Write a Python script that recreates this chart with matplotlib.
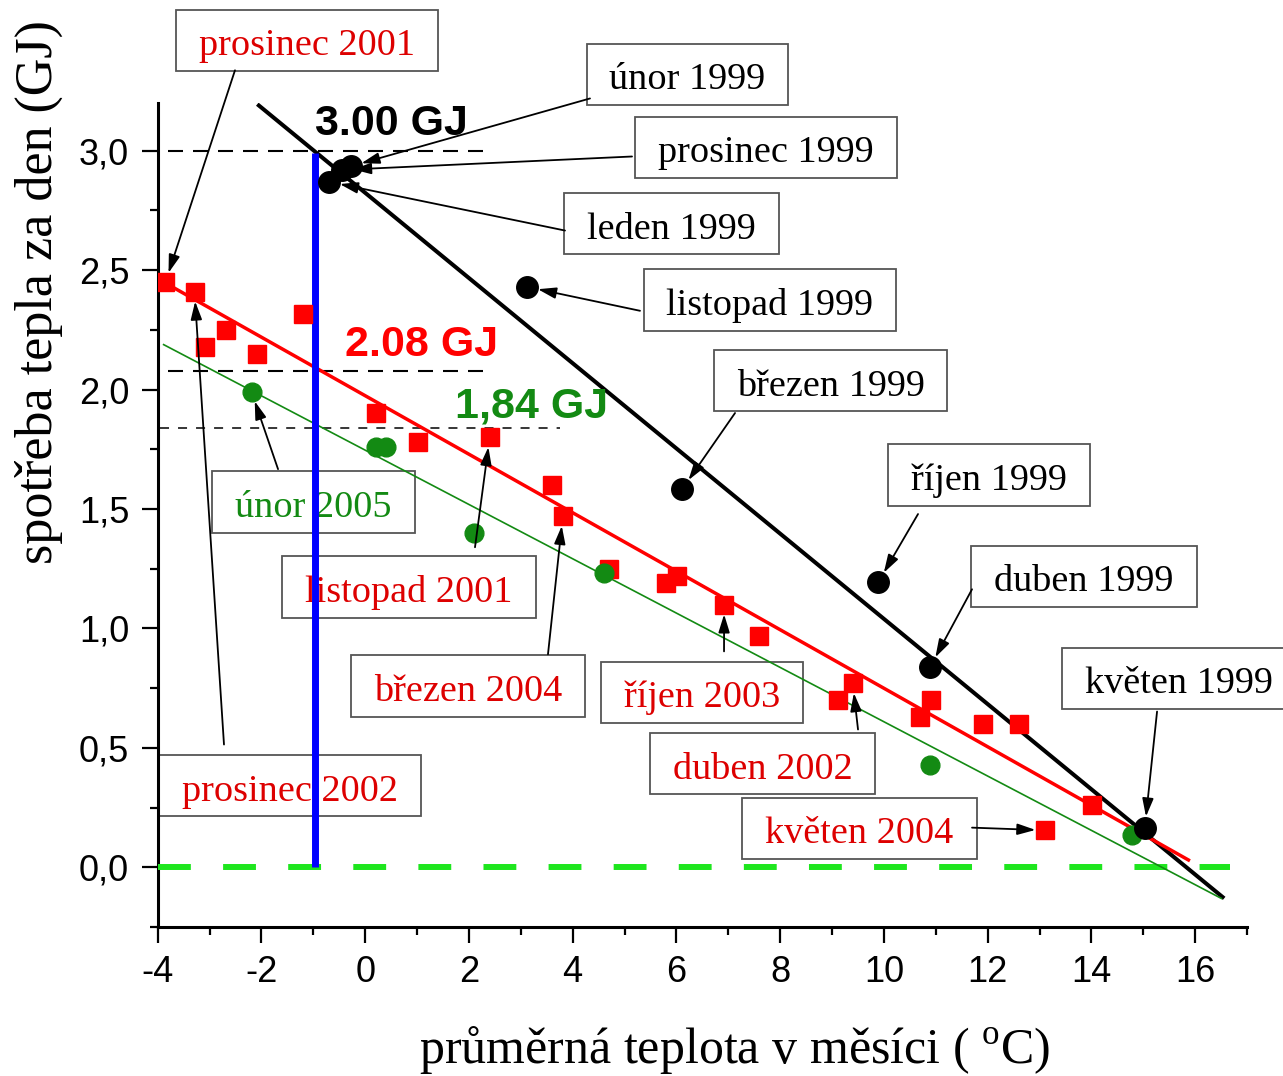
import matplotlib
matplotlib.use('Agg')
import matplotlib.pyplot as plt
from matplotlib.path import Path
from matplotlib.ticker import MultipleLocator
from matplotlib.transforms import offset_copy

plt.rcParams['mathtext.fontset'] = 'custom'
plt.rcParams['mathtext.rm'] = 'Liberation Serif'
plt.rcParams['font.family'] = ['Liberation Sans', 'DejaVu Sans']

# ---------------- data ----------------
# 1999 (black circles)
black_x = [-0.70, -0.45, -0.28, 3.12, 6.11, 9.89, 10.89, 15.03]
black_y = [2.87, 2.92, 2.935, 2.43, 1.583, 1.193, 0.838, 0.166]
# 2001-2004 (red squares)
red_x = [-3.85, -3.29, -3.09, -2.69, -2.09, -1.20, 0.20, 1.01, 2.40, 3.60,
         3.81, 4.70, 5.80, 6.01, 6.92, 7.59, 9.11, 9.40, 10.70, 10.91,
         11.91, 12.61, 14.01, 13.11]
red_y = [2.45, 2.41, 2.18, 2.25, 2.15, 2.318, 1.90, 1.78, 1.80, 1.60,
         1.47, 1.25, 1.19, 1.22, 1.10, 0.97, 0.70, 0.77, 0.63, 0.70,
         0.60, 0.60, 0.26, 0.155]
# 2005 (green circles)
green_x = [-2.19, 0.20, 0.40, 2.09, 4.60, 10.89, 14.79]
green_y = [1.99, 1.76, 1.76, 1.40, 1.231, 0.43, 0.137]

# regression lines (end points)
black_fit_x = [-2.08, 16.56]
black_fit_y = [3.195, -0.13]
red_fit_x = [-3.76, 15.90]
red_fit_y = [2.435, 0.027]
green_fit_x = [-3.90, 16.52]
green_fit_y = [2.19, -0.132]

# reference values
ref_values = [3.00, 2.08, 1.84]
ref_texts = ['3.00 GJ', '2.08 GJ', '1,84 GJ']
design_temp = -0.96

x_ticks = [-4, -2, 0, 2, 4, 6, 8, 10, 12, 14, 16]
x_tick_labels = ['-4', '-2', '0', '2', '4', '6', '8', '10', '12', '14', '16']
y_ticks = [0.0, 0.5, 1.0, 1.5, 2.0, 2.5, 3.0]
y_tick_labels = ['0,0', '0,5', '1,0', '1,5', '2,0', '2,5', '3,0']

# annotations: text, series, index of the annotated point
ann_texts = ['prosinec 2001', 'únor 1999', 'prosinec 1999', 'leden 1999',
             'listopad 1999', 'březen 1999', 'říjen 1999', 'duben 1999',
             'květen 1999', 'únor 2005', 'listopad 2001', 'březen 2004',
             'prosinec 2002', 'říjen 2003', 'duben 2002', 'květen 2004']
ann_series = ['red', 'black', 'black', 'black', 'black', 'black', 'black',
              'black', 'black', 'green', 'red', 'red', 'red', 'red', 'red', 'red']
ann_index = [0, 2, 1, 0, 3, 4, 5, 6, 7, 0, 8, 10, 1, 14, 17, 23]

# ---------------- layout ----------------
ann_box_pos = [(-1.122, 3.463), (6.214, 3.320), (7.727, 3.014), (5.905, 2.695),
               (7.804, 2.376), (8.971, 2.037), (12.027, 1.642), (13.858, 1.219),
               (15.680, 0.791), (-0.996, 1.529), (0.845, 1.174), (1.982, 0.759),
               (-1.449, 0.342), (6.493, 0.732), (7.660, 0.434), (9.530, 0.164)]
ann_arrow_start = [(-2.510, 3.337), (4.334, 3.219), (5.144, 2.976), (3.852, 2.666),
                   (5.298, 2.330), (7.130, 1.902), (10.658, 1.479), (11.699, 1.164),
                   (15.266, 0.652), (-1.680, 1.667), (2.117, 1.340), (3.524, 0.892),
                   (-2.722, 0.514), (6.918, 0.904), (9.501, 0.577), (11.699, 0.166)]
ref_line_x = [(-3.80, 2.27), (-3.80, 2.40), (-3.96, 3.76)]
ref_text_pos = [(0.50, 3.064), (1.08, 2.141), (3.20, 1.885)]

C_RED = '#ff0000'
C_RED_TXT = '#dd0000'
C_GREEN = '#138a13'
C_LIME = '#1ee61e'
series_xy = {'black': (black_x, black_y), 'red': (red_x, red_y), 'green': (green_x, green_y)}
series_txtcol = {'black': 'black', 'red': C_RED_TXT, 'green': C_GREEN}
series_shrink = {'black': 8, 'red': 7, 'green': 7}

BOX_PX, BOX_TOP, BOX_BOT = 0.60, 0.50, 0.20
LABEL_FS = 27.5


def wide_box(x0, y0, width, height, mutation_size):
    xa = x0 - BOX_PX * mutation_size
    xb = x0 + width + BOX_PX * mutation_size
    ya = y0 - BOX_BOT * mutation_size
    yb = y0 + height + BOX_TOP * mutation_size
    return Path([(xa, ya), (xb, ya), (xb, yb), (xa, yb), (xa, ya)], closed=True)


fig = plt.figure(figsize=(12.83, 10.76), dpi=100)
L, R, B, T = 157.7 / 1283, 1247 / 1283, 1 - 927 / 1076, 1 - 103 / 1076
ax = fig.add_axes([L, B, R - L, T - B])
ax.set_xlim(-4, 17)
ax.set_ylim(-0.25, 3.2)
for s in ['top', 'right']:
    ax.spines[s].set_visible(False)
for s in ['left', 'bottom']:
    ax.spines[s].set_linewidth(2.2)

ax.set_xticks(x_ticks)
ax.set_xticklabels(x_tick_labels)
ax.xaxis.set_minor_locator(MultipleLocator(1))
ax.set_yticks(y_ticks)
ax.set_yticklabels(y_tick_labels)
ax.yaxis.set_minor_locator(MultipleLocator(0.25))
ax.tick_params(which='major', length=11.5, width=1.6, direction='out',
               labelsize=26, pad=9)
ax.tick_params(which='minor', length=5.8, width=1.6, direction='out')

# axis labels
ax.set_ylabel('spotřeba tepla za den (GJ)', fontsize=37.5, family='Liberation Serif')
ax.yaxis.label.set_va('baseline')
ax.yaxis.set_label_coords(-0.097, 0.771)
ax.set_xlabel('průměrná teplota v měsíci ( $^{\\mathrm{o}}$C)', fontsize=36,
              family='Liberation Serif')
ax.xaxis.label.set_va('baseline')
ax.xaxis.set_label_coords(0.530, (927 - 1063) / 824)

# zero line
ax.plot([-4, 16.68], [0, 0], color=C_LIME, lw=4.3, dashes=(5.5, 5.4), zorder=3)

# reference dashed lines
ref_styles = [dict(lw=1.5, dashes=(7.2, 4.8)), dict(lw=1.5, dashes=(7.2, 4.8)),
              dict(lw=1.1, dashes=(5.9, 5.9))]
for yv, (x0, x1), st in zip(ref_values, ref_line_x, ref_styles):
    ax.plot([x0, x1], [yv, yv], color='black', zorder=3, **st)

# regression lines
ax.plot(black_fit_x, black_fit_y, color='black', lw=2.9, zorder=3,
        solid_capstyle='butt')
ax.plot(red_fit_x, red_fit_y, color=C_RED, lw=2.5, zorder=3, solid_capstyle='butt')
ax.plot(green_fit_x, green_fit_y, color=C_GREEN, lw=1.2, zorder=3,
        solid_capstyle='butt')

# design temperature line
ax.plot([design_temp, design_temp], [0.0, 2.99], color='#0000ff', lw=5.0,
        zorder=3.5, solid_capstyle='butt')

# data points
ax.plot(red_x, red_y, 's', color=C_RED, ms=13.5, zorder=5)
ax.plot(green_x, green_y, 'o', color=C_GREEN, ms=13.5, zorder=5)
ax.plot(black_x, black_y, 'o', color='black', ms=15.5, zorder=5)

# big value texts
ref_colors = ['black', C_RED, C_GREEN]
for txt, (tx, ty), c in zip(ref_texts, ref_text_pos, ref_colors):
    ax.text(tx, ty, txt, ha='center', va='baseline', fontsize=31,
            fontweight='bold', family='Liberation Sans', color=c, zorder=6)

# labelled boxes with arrows (text shifted so that the box is centred on ann_box_pos)
shift_px = -(BOX_TOP - BOX_BOT) / 2 * LABEL_FS * fig.dpi / 72
text_trans = offset_copy(ax.transData, fig=fig, x=0, y=shift_px, units='dots')
for txt, ser, idx, (cx, cy), (sx, sy) in zip(ann_texts, ann_series, ann_index,
                                              ann_box_pos, ann_arrow_start):
    ax.text(cx, cy, txt, ha='center', va='center', fontsize=LABEL_FS,
            family='Liberation Serif', color=series_txtcol[ser], zorder=2,
            transform=text_trans,
            bbox=dict(boxstyle=wide_box, fc='white', ec='#555555', lw=1.3))
    xs, ys = series_xy[ser]
    ax.annotate('', xy=(xs[idx], ys[idx]), xytext=(sx, sy),
                arrowprops=dict(arrowstyle='-|>,head_length=0.55,head_width=0.17',
                                color='black', lw=1.3, shrinkA=0,
                                shrinkB=series_shrink[ser], mutation_scale=20),
                annotation_clip=False, zorder=6)

fig.savefig('out.png', dpi=100)
